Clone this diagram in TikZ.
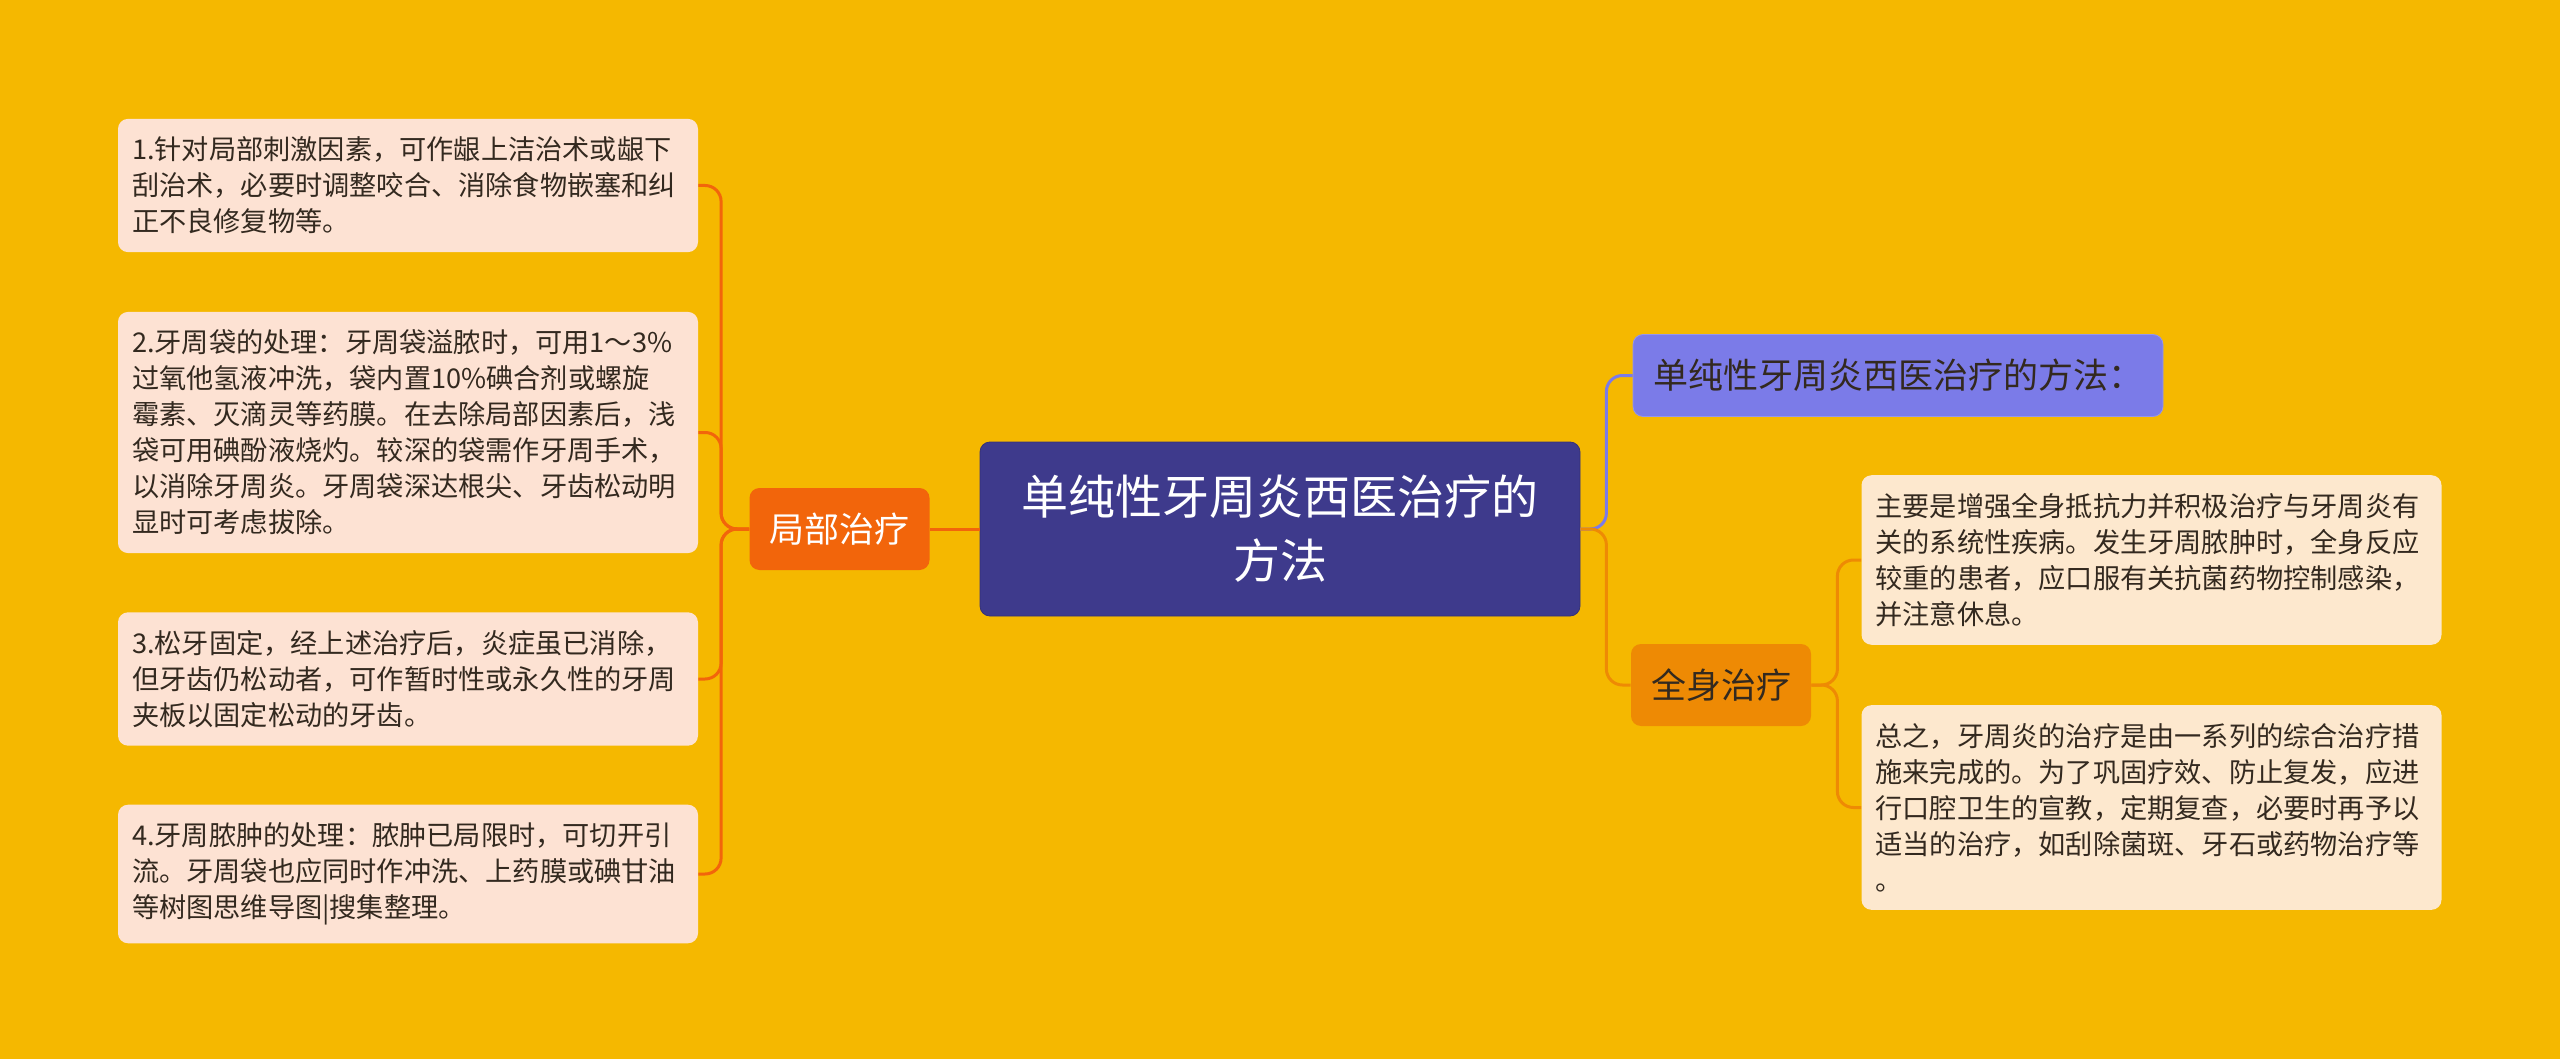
\documentclass[tikz,border=0pt]{standalone}
\usepackage{fontspec}
\setmainfont{Noto Sans CJK SC}
\definecolor{bgyellow}{HTML}{F5B800}
\definecolor{rootblue}{HTML}{3E3A8C}
\definecolor{lilac}{HTML}{7B7BE8}
\definecolor{redorange}{HTML}{F2650B}
\definecolor{deeporange}{HTML}{EE8A04}
\definecolor{leafpink}{HTML}{FDE2D3}
\definecolor{leafcream}{HTML}{FDE8CE}
\definecolor{textdark}{HTML}{33291F}
\tikzset{
  rootbox/.style={rounded corners=5pt,fill=rootblue,draw=rootblue!85!black,text=white,
    align=center,minimum width=300pt,minimum height=87pt,
    font=\fontsize{23.5}{32}\selectfont},
  branchbox/.style={rounded corners=5pt,minimum height=41pt,inner xsep=10pt,
    font=\fontsize{17.5}{20}\selectfont},
  leafbox/.style={rounded corners=5pt,text=textdark,text width=276pt,align=left,
    inner xsep=7pt,inner ysep=9pt,font=\fontsize{13.6}{18}\selectfont},
  link/.style={line width=1.5pt,rounded corners=8pt}
}
\begin{document}
\begin{tikzpicture}[x=0.5pt,y=-0.5pt]
    % BACKGROUND
    \fill[bgyellow] (0,0) rectangle (2560,1059);
    \useasboundingbox (0,0) rectangle (2560,1059);
    % ROOT
    \node[rootbox] (root) at (1280,529) {单纯性牙周炎西医治疗的\\方法};
    % BRANCHES
    \node[branchbox,fill=redorange,text=white,minimum width=88.5pt] (local) at (839.5,529) {局部治疗};
    \node[branchbox,fill=lilac,draw=lilac!80!white,text=textdark,minimum width=265pt] (title) at (1898,375.5) {单纯性牙周炎西医治疗的方法：};
    \node[branchbox,fill=deeporange,text=textdark,minimum width=88pt] (whole) at (1721,685) {全身治疗};
    % LEFT LEAVES
    \node[leafbox,fill=leafpink] (l1) at (408,185.5) {1.针对局部刺激因素，可作龈上洁治术或龈下\\刮治术，必要时调整咬合、消除食物嵌塞和纠\\正不良修复物等。};
    \node[leafbox,fill=leafpink] (l2) at (408,432.5) {2.牙周袋的处理：牙周袋溢脓时，可用1～3\%\\过氧他氢液冲洗，袋内置10\%碘合剂或螺旋\\霉素、灭滴灵等药膜。在去除局部因素后，浅\\袋可用碘酚液烧灼。较深的袋需作牙周手术，\\以消除牙周炎。牙周袋深达根尖、牙齿松动明\\显时可考虑拔除。};
    \node[leafbox,fill=leafpink] (l3) at (408,679) {3.松牙固定，经上述治疗后，炎症虽已消除，\\但牙齿仍松动者，可作暂时性或永久性的牙周\\夹板以固定松动的牙齿。};
    \node[leafbox,fill=leafpink] (l4) at (408,874) {4.牙周脓肿的处理：脓肿已局限时，可切开引\\流。牙周袋也应同时作冲洗、上药膜或碘甘油\\等树图思维导图|搜集整理。};
    % RIGHT LEAVES
    \node[leafbox,fill=leafcream] (r1) at (2151.5,560) {主要是增强全身抵抗力并积极治疗与牙周炎有\\关的系统性疾病。发生牙周脓肿时，全身反应\\较重的患者，应口服有关抗菌药物控制感染，\\并注意休息。};
    \node[leafbox,fill=leafcream] (r2) at (2151.5,807.5) {总之，牙周炎的治疗是由一系列的综合治疗措\\施来完成的。为了巩固疗效、防止复发，应进\\行口腔卫生的宣教，定期复查，必要时再予以\\适当的治疗，如刮除菌斑、牙石或药物治疗等\\。};
    % LEFT LINKS
    \draw[link,redorange] (root.west) -- (local.east);
    \draw[link,redorange] (local.west) -- ++(-28,0) |- (l1.east);
    \draw[link,redorange] (local.west) -- ++(-28,0) |- (l2.east);
    \draw[link,redorange] (local.west) -- ++(-28,0) |- (l3.east);
    \draw[link,redorange] (local.west) -- ++(-28,0) |- (l4.east);
    % RIGHT LINKS
    \draw[link,lilac] (root.east) -- ++(26,0) |- (title.west);
    \draw[link,deeporange] (root.east) -- ++(26,0) |- (whole.west);
    \draw[link,deeporange] (whole.east) -- ++(26,0) |- (r1.west);
    \draw[link,deeporange] (whole.east) -- ++(26,0) |- (r2.west);
\end{tikzpicture}
\end{document}
